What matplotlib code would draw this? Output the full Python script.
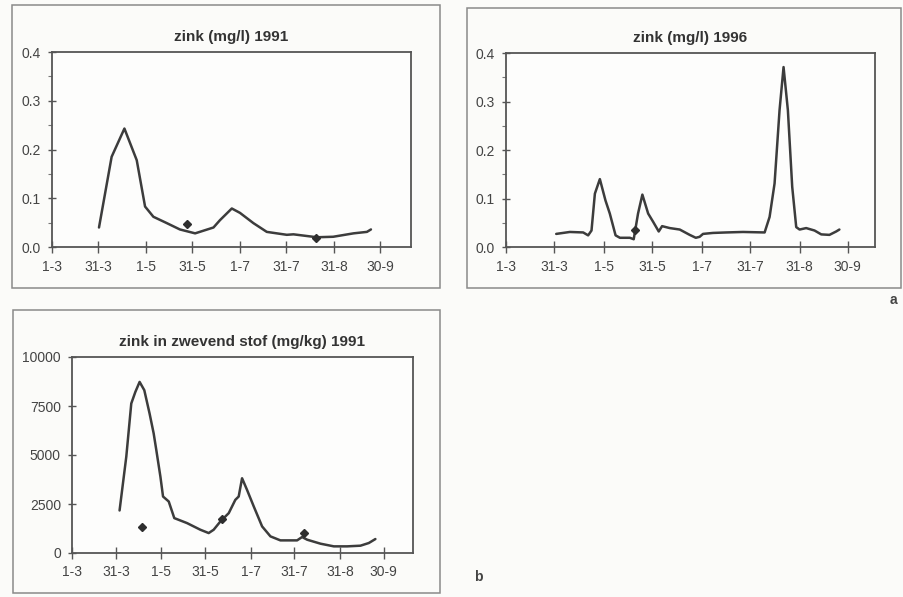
import matplotlib
matplotlib.use("Agg")
import matplotlib.pyplot as plt
from matplotlib.patches import Rectangle
from matplotlib.ticker import MultipleLocator

plt.rcParams["font.family"] = ["Liberation Sans", "DejaVu Sans"]

# x axis: days counted from 1 March
tick_days = [0, 30, 61, 91, 122, 152, 183, 213]
tick_labels = ["1-3", "31-3", "1-5", "31-5", "1-7", "31-7", "31-8", "30-9"]

# zink (mg/l) 1991 - continuous curve and single samples
days_1991 = [30.5, 38.7, 47, 55, 60.4, 65.8, 74.5, 83, 92.9, 104.8, 109, 116.7, 122,
             130.7, 139.4, 152.4, 156.7, 171.9, 182.5, 195.7, 204.4, 207]
zink_1991 = [0.040, 0.185, 0.243, 0.178, 0.083, 0.062, 0.049, 0.036, 0.028, 0.040, 0.055,
             0.079, 0.070, 0.049, 0.031, 0.025, 0.026, 0.020, 0.021, 0.028, 0.031, 0.036]
sample_days_1991 = [87.9, 171.4]
sample_zink_1991 = [0.047, 0.018]

# zink (mg/l) 1996
days_1996 = [31.3, 39.8, 48.1, 51.2, 53.3, 55.4, 58.5, 62.0, 64.7, 68.3, 71.0, 77.2, 79.6,
             82.3, 85.0, 88.6, 91.7, 95.2, 97.3, 102.1, 108.3, 114.5, 118.3, 120.7, 122.8,
             129.0, 137.3, 147.7, 161.2, 164.3, 167.4, 170.5, 173.0, 175.7, 178.4, 180.9,
             183.0, 187.1, 192.3, 196.5, 201.6, 205.8, 207.8]
zink_1996 = [0.027, 0.031, 0.030, 0.024, 0.034, 0.110, 0.140, 0.096, 0.069, 0.024, 0.019,
             0.019, 0.016, 0.069, 0.108, 0.069, 0.052, 0.032, 0.043, 0.039, 0.036, 0.025,
             0.019, 0.021, 0.027, 0.029, 0.030, 0.031, 0.030, 0.062, 0.131, 0.282, 0.371,
             0.282, 0.124, 0.041, 0.036, 0.039, 0.034, 0.026, 0.025, 0.032, 0.036]
sample_days_1996 = [80.7]
sample_zink_1996 = [0.036]

# zink in zwevend stof (mg/kg) 1991
days_stof = [32.5, 37.1, 40.5, 43.3, 46.2, 49.4, 53.0, 55.8, 57.6, 60.4, 62.2, 66.1, 69.9,
             78.6, 87.7, 93.4, 96.8, 101.4, 107.1, 111.6, 113.9, 116.2, 119.6, 124.2, 129.9,
             135.6, 142.4, 149.3, 153.8, 157.2, 160.7, 169.8, 178.9, 188.0, 197.1, 202.8, 207.3]
zink_stof = [2170, 4916, 7628, 8220, 8729, 8306, 7119, 6102, 5255, 3899, 2882, 2627, 1780,
             1526, 1187, 1017, 1187, 1610, 2034, 2712, 2882, 3814, 3220, 2373, 1356,
             848, 644, 644, 644, 814, 678, 475, 339, 339, 373, 509, 712]
sample_days_stof = [47.8, 102.5, 158.3]
sample_zink_stof = [1305, 1729, 1017]

W, H = 904, 597
fig = plt.figure(figsize=(W / 100, H / 100), dpi=100)
fig.patch.set_facecolor("#fbfbf9")

ink = "#3c3c3c"
frame_col = "#8a8a8a"


def px_rect(x0, y0, x1, y1):
    """pixel box (top-left origin) -> figure fraction [left, bottom, width, height]"""
    return [x0 / W, 1 - y1 / H, (x1 - x0) / W, (y1 - y0) / H]


def chart_frame(x0, y0, x1, y1):
    l, b, w, h = px_rect(x0, y0, x1, y1)
    fig.patches.append(Rectangle((l, b), w, h, transform=fig.transFigure,
                                 fill=False, edgecolor=frame_col, linewidth=1.1))


def make_panel(box, title, days, values, s_days, s_values, ymax, major, minor, xmax, fmt):
    ax = fig.add_axes(px_rect(*box))
    ax.set_facecolor("#fdfdfc")
    ax.plot(days, values, color=ink, linewidth=1.8, solid_joinstyle="round",
            solid_capstyle="round")
    ax.plot(s_days, s_values, linestyle="none", marker="D", markersize=4.5,
            color="#2e2e2e")
    ax.set_xlim(0, xmax)
    ax.set_ylim(0, ymax)
    ax.set_xticks(tick_days)
    ax.set_xticklabels(tick_labels)
    ax.yaxis.set_major_locator(MultipleLocator(major))
    if minor:
        ax.yaxis.set_minor_locator(MultipleLocator(minor))
    ax.yaxis.set_major_formatter(fmt)
    for sp in ax.spines.values():
        sp.set_color("#555555")
        sp.set_linewidth(1.3)
    ax.tick_params(axis="x", direction="inout", length=8, width=1, color="#555555",
                   labelsize=10, labelcolor="#444444", pad=5)
    ax.tick_params(axis="y", which="major", direction="inout", length=6, width=1,
                   color="#555555", labelsize=10, labelcolor="#444444", pad=5)
    ax.tick_params(axis="y", which="minor", direction="out", length=3, width=0.8,
                   color="#777777")
    ax.set_title(title, fontsize=11, fontweight="bold", color="#333333", pad=8)
    return ax


# outer chart borders
chart_frame(12, 5, 440, 288)
chart_frame(467, 8, 901, 288)
chart_frame(13, 310, 440, 593)

make_panel((52, 52, 411, 247), "zink (mg/l) 1991", days_1991, zink_1991,
           sample_days_1991, sample_zink_1991, 0.4, 0.1, 0.05, 233, "{x:.1f}")
make_panel((506, 53, 875, 247), "zink (mg/l) 1996", days_1996, zink_1996,
           sample_days_1996, sample_zink_1996, 0.4, 0.1, 0.05, 230, "{x:.1f}")
make_panel((72, 357, 413, 553), "zink in zwevend stof (mg/kg) 1991", days_stof, zink_stof,
           sample_days_stof, sample_zink_stof, 10000, 2500, None, 233, "{x:.0f}")

fig.text(893 / W, 1 - 300 / H, "a", fontsize=10, fontweight="bold", color="#444444",
         ha="center", va="center")
fig.text(478 / W, 1 - 577 / H, "b", fontsize=10, fontweight="bold", color="#444444",
         ha="center", va="center")

fig.savefig("out.png", dpi=100, facecolor=fig.get_facecolor())
